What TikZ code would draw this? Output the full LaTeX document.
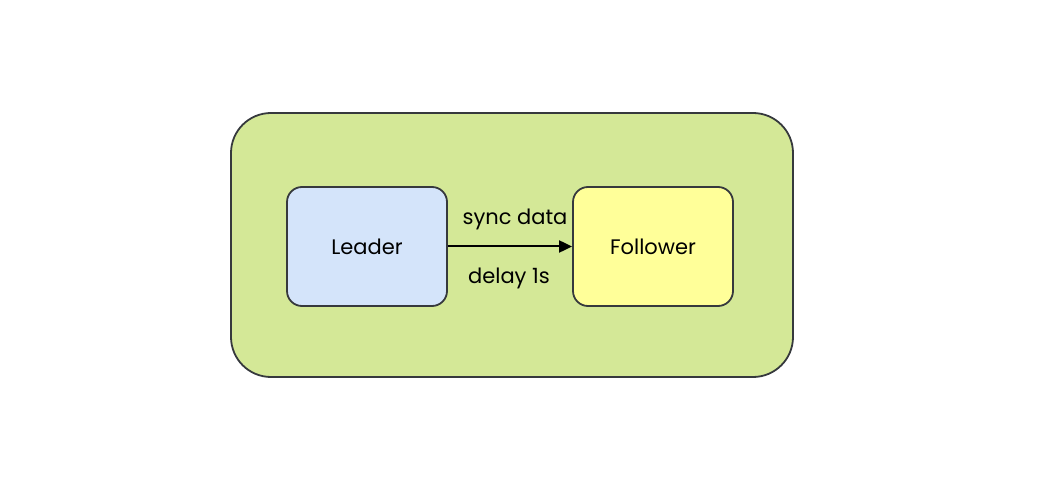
\documentclass[tikz,border=0pt]{standalone}
\usepackage{fontspec}
\setmainfont{Poppins}
\usetikzlibrary{arrows.meta}
\definecolor{outerfill}{HTML}{D4E897}
\definecolor{leaderfill}{HTML}{D4E4FA}
\definecolor{followerfill}{HTML}{FFFF99}
\definecolor{strokec}{HTML}{36393D}
\tikzset{
  box/.style={draw=strokec, line width=1.8pt, rounded corners=15pt, minimum width=160pt, minimum height=119pt, inner sep=0pt, font=\fontsize{21pt}{25pt}\selectfont},
  lbl/.style={font=\fontsize{21pt}{25pt}\selectfont, inner sep=0pt},
}
\begin{document}
\begin{tikzpicture}[x=1pt,y=-1pt]
\useasboundingbox (0,0) rectangle (1060,486);
\node[draw=strokec, line width=1.8pt, fill=outerfill, rounded corners=40pt, minimum width=562pt, minimum height=264pt, inner sep=0pt] (outer) at (512,245) {};
\node[box, fill=leaderfill] (leader) at (367,246.5) {Leader};
\node[box, fill=followerfill] (follower) at (653,246.5) {Follower};
\draw[line width=2pt, -{Triangle[length=13pt,width=12pt]}] (leader.east) -- (follower.west);
\node[lbl] (sync) at (515,219) {sync data};
\node[lbl] (delay) at (509,278) {delay 1s};
\end{tikzpicture}
\end{document}
